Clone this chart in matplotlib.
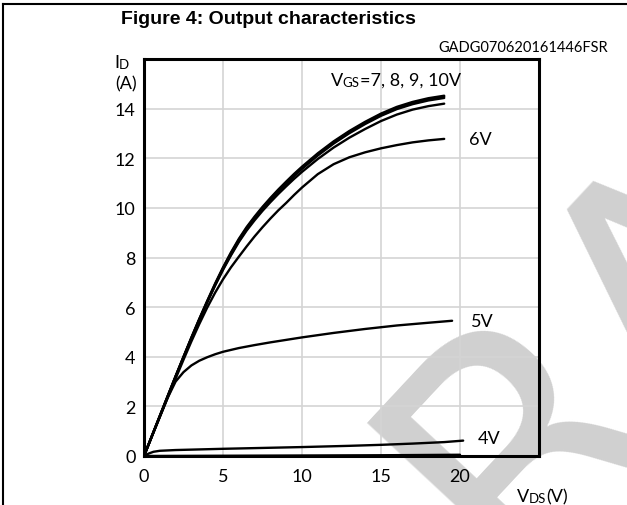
import matplotlib
matplotlib.use("Agg")
import matplotlib.pyplot as plt
from matplotlib.lines import Line2D

# drain-source voltage (V) and drain current (A)
vds_hi = [0, 0.5, 1, 1.5, 2, 2.5, 3, 3.5, 4, 4.5, 5, 5.5, 6, 6.5, 7, 7.5, 8, 8.5, 9, 9.5,
          10, 11, 12, 13, 14, 15, 16, 17, 18, 19]
id_10v = [0, 0.81, 1.62, 2.42, 3.22, 4.0, 4.78, 5.53, 6.25, 6.95, 7.6, 8.2, 8.75, 9.23,
          9.65, 10.04, 10.4, 10.74, 11.06, 11.37, 11.66, 12.2, 12.68, 13.1, 13.47, 13.8,
          14.07, 14.27, 14.42, 14.52]
id_9v = [0, 0.81, 1.61, 2.41, 3.21, 3.99, 4.76, 5.51, 6.23, 6.92, 7.57, 8.17, 8.71, 9.19,
         9.61, 10.0, 10.36, 10.7, 11.02, 11.33, 11.62, 12.16, 12.64, 13.06, 13.43, 13.76,
         14.03, 14.23, 14.38, 14.48]
id_8v = [0, 0.8, 1.6, 2.4, 3.2, 3.98, 4.74, 5.49, 6.2, 6.89, 7.53, 8.12, 8.66, 9.14,
         9.56, 9.95, 10.31, 10.65, 10.97, 11.28, 11.57, 12.11, 12.59, 13.01, 13.38, 13.71,
         13.98, 14.18, 14.33, 14.43]
id_7v = [0, 0.8, 1.6, 2.4, 3.19, 3.97, 4.74, 5.48, 6.19, 6.87, 7.5, 8.08, 8.62, 9.09,
         9.5, 9.88, 10.23, 10.56, 10.87, 11.17, 11.45, 11.97, 12.43, 12.83, 13.18, 13.5,
         13.76, 13.96, 14.1, 14.2]
id_6v = [0, 0.79, 1.57, 2.35, 3.12, 3.88, 4.62, 5.32, 5.98, 6.58, 7.12, 7.6, 8.03, 8.45,
         8.85, 9.22, 9.57, 9.9, 10.2, 10.52, 10.82, 11.36, 11.76, 12.04, 12.24, 12.4,
         12.53, 12.64, 12.72, 12.78]

vds_5v = [0, 0.5, 1, 1.5, 2, 2.5, 3, 3.5, 4, 4.5, 5, 6, 7, 8, 10, 12, 14, 16, 18, 19.5]
id_5v = [0, 0.8, 1.58, 2.35, 3.0, 3.38, 3.65, 3.84, 3.98, 4.1, 4.2, 4.35, 4.47, 4.58,
         4.78, 4.96, 5.12, 5.26, 5.37, 5.45]

vds_4v = [0, 0.3, 0.6, 1, 2, 5, 10, 13, 15, 17, 19, 20.2]
id_4v = [0, 0.1, 0.17, 0.21, 0.24, 0.29, 0.36, 0.41, 0.45, 0.5, 0.56, 0.62]

vds_3v = [0, 5, 10, 15, 20]
id_3v = [0, 0.01, 0.02, 0.03, 0.05]

x_ticks = [0, 5, 10, 15, 20]
y_ticks = [0, 2, 4, 6, 8, 10, 12, 14]

label_font = "Lato"
fs = 13
W, H = 627, 506

fig = plt.figure(figsize=(6.27, 5.06), dpi=100)
fig.patch.set_facecolor("white")

# DRAFT watermark behind everything
fig.text(1.045, 0.39, "DRAFT", fontsize=250, color="#d0d0d0", rotation=47,
         ha="center", va="center", rotation_mode="anchor",
         family="DejaVu Sans", zorder=-5)

ax = fig.add_axes([144 / W, 1 - 457 / H, 395 / W, 397 / H])
ax.patch.set_alpha(0)
ax.set_xlim(0, 25)
ax.set_ylim(0, 16)

for v, i in [(vds_hi, id_10v), (vds_hi, id_9v), (vds_hi, id_8v), (vds_hi, id_7v),
             (vds_hi, id_6v), (vds_5v, id_5v), (vds_4v, id_4v), (vds_3v, id_3v)]:
    ax.plot(v, i, color="black", lw=1.7, solid_capstyle="round",
            solid_joinstyle="round", zorder=3)

ax.set_xticks(x_ticks)
ax.set_yticks(y_ticks)
ax.set_xticklabels([str(t) for t in x_ticks], family=label_font, fontsize=fs)
ax.set_yticklabels([str(t) for t in y_ticks], family=label_font, fontsize=fs)
ax.tick_params(axis="x", length=0, pad=9)
ax.tick_params(axis="y", length=0, pad=6)
for g in [5, 10, 15, 20]:
    ax.axvline(g, color="#d4d4d4", lw=1.2, zorder=1)
for g in [2, 4, 6, 8, 10, 12, 14]:
    ax.axhline(g, color="#d4d4d4", lw=1.2, zorder=1)
for s in ax.spines.values():
    s.set_linewidth(2.2)
    s.set_zorder(4)


def pieces(x, y, parts):
    # draw text pieces one after another, e.g. V + small GS
    prev = None
    for s, size in parts:
        if prev is None:
            prev = ax.text(x, y, s, fontsize=size, family=label_font,
                           ha="left", va="bottom", clip_on=False)
        else:
            prev = ax.annotate(s, xy=(1, 0), xycoords=prev, fontsize=size,
                               family=label_font, va="bottom", ha="left",
                               annotation_clip=False)


pieces(11.8, 14.85, [("V", fs), ("GS", 9.5), ("=7, 8, 9, 10V", fs)])
ax.text(20.6, 12.78, "6V", fontsize=fs, family=label_font, va="center")
ax.text(20.7, 5.45, "5V", fontsize=fs, family=label_font, va="center")
ax.text(21.1, 0.72, "4V", fontsize=fs, family=label_font, va="center")
pieces(23.6, -1.95, [("V", fs), ("DS", 9.5), ("(V)", fs)])
pieces(-1.9, 15.55, [("I", fs), ("D", 9.5)])
ax.text(-0.45, 15.0, "(A)", fontsize=fs, family=label_font, ha="right", va="center",
        clip_on=False)

# frame and headings
fig.add_artist(Line2D([3 / W, 3 / W], [0, 1 - 5 / H], color="black", lw=1.5))
fig.add_artist(Line2D([3 / W, 1], [1 - 5 / H, 1 - 5 / H], color="black", lw=1.5))
fig.text(268 / W, 1 - 19 / H, "Figure 4: Output characteristics", fontsize=14,
         fontweight="bold", family="Liberation Sans", ha="center", va="center")
fig.text(608 / W, 1 - 48 / H, "GADG070620161446FSR", fontsize=10.5,
         family=label_font, ha="right", va="center")

fig.savefig("out.png", dpi=100)
